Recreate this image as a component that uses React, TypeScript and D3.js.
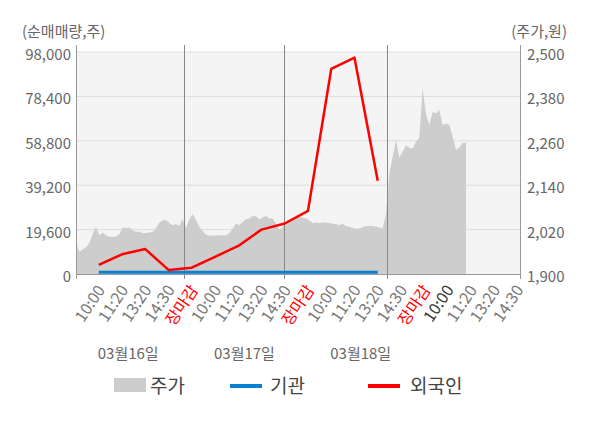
import React from "react";
import * as d3 from "d3";

// ---- data ----
const xLabels = [
  "10:00", "11:20", "13:20", "14:30", "장마감",
  "10:00", "11:20", "13:20", "14:30", "장마감",
  "10:00", "11:20", "13:20", "14:30", "장마감",
  "10:00", "11:20", "13:20", "14:30",
];
const dateLabels = ["03월16일", "03월17일", "03월18일"];
const dateSlots = [0, 5, 10];
const leftTicks = [0, 19600, 39200, 58800, 78400, 98000];
const rightTicks = [1900, 2020, 2140, 2260, 2380, 2500];

// 외국인 net volume per slot
const foreign = [4000, 8700, 11000, 1800, 2800, 7600, 12400, 19600, 22300, 27900, 90500, 95500, 41200];
// 기관 net volume per slot
const institution = [800, 800, 800, 800, 800, 800, 800, 800, 800, 800, 800, 800, 800];

// 주가 (minute samples)
const price = [
  1984, 1960, 1966, 1972, 1984, 2008, 2028, 2005, 2012, 2004,
  2001, 2001, 2001, 2008, 2026, 2024, 2026, 2018, 2014, 2014,
  2011, 2011, 2012, 2014, 2024, 2039, 2045, 2046, 2038, 2032,
  2035, 2030, 2049, 2024, 2047, 2062, 2046, 2027, 2016, 2006,
  2004, 2004, 2004, 2005, 2005, 2005, 2011, 2022, 2036, 2032,
  2041, 2048, 2050, 2057, 2056, 2047, 2053, 2057, 2051, 2050,
  2036, 2019, 2028, 2041, 2047, 2050, 2054, 2054, 2053, 2050,
  2045, 2038, 2039, 2038, 2039, 2039, 2038, 2036, 2035, 2032,
  2036, 2030, 2028, 2024, 2022, 2023, 2027, 2029, 2030, 2030,
  2028, 2026, 2023, 2062, 2172, 2217, 2262, 2214, 2231, 2247,
  2241, 2239, 2258, 2269, 2402, 2332, 2303, 2338, 2334, 2343,
  2303, 2307, 2303, 2271, 2235, 2241, 2255, 2255,
];
const sessionBreaks = [32.4, 62.4, 93.3];

const W = 600;
const H = 428;
const L = 76, R = 520, T = 52, B = 274;
const FONT = "'Noto Sans CJK KR', 'Noto Sans', sans-serif";

export default function App() {
  const yLeft = d3.scaleLinear().domain([0, 98000]).range([B, T]);
  const yRight = d3.scaleLinear().domain([1900, 2500]).range([B, T]);
  const xPrice = d3.scaleLinear().domain([0, 133.2]).range([L, R]);
  const xSlot = d3.scaleLinear().domain([-0.98, 18.12]).range([L, R]);

  const area = d3
    .area<number>()
    .x((_, i) => xPrice(i))
    .y0(B)
    .y1((d) => yRight(d));
  const line = d3
    .line<number>()
    .x((_, i) => xSlot(i))
    .y((d) => yLeft(d));

  const fmt = d3.format(",");

  return (
    <svg width={W} height={H} style={{ position: "absolute", left: 0, top: 0, fontFamily: FONT }}>
      <rect x={0} y={0} width={W} height={H} fill="#fff" />
      <rect x={L} y={T} width={R - L} height={B - T} fill="#f4f4f4" />
      {leftTicks.slice(1).map((t) => (
        <line key={t} x1={L} x2={R} y1={yLeft(t)} y2={yLeft(t)} stroke="#dcdcdc" strokeWidth={1} />
      ))}
      <path d={area(price) || ""} fill="#cdcdcd" />
      {/* axes */}
      <line x1={L} x2={R} y1={B + 0.5} y2={B + 0.5} stroke="#999" />
      {[L, R].map((x, i) => (
        <line key={i} x1={x + 0.5} x2={x + 0.5} y1={45} y2={279} stroke="#999" />
      ))}
      {sessionBreaks.map((b) => (
        <line key={b} x1={Math.round(xPrice(b)) + 0.5} x2={Math.round(xPrice(b)) + 0.5} y1={45} y2={279} stroke="#888" />
      ))}
      {/* series */}
      <path d={line(institution) || ""} fill="none" stroke="#0a7fcf" strokeWidth={3} />
      <path d={line(foreign) || ""} fill="none" stroke="#ff0000" strokeWidth={2.5} strokeLinejoin="round" />
      {/* left ticks */}
      {leftTicks.map((t) => (
        <text key={t} x={71} y={yLeft(t) + 8} textAnchor="end" fontSize={15} fill="#666">
          {fmt(t)}
        </text>
      ))}
      {rightTicks.map((t) => (
        <text key={t} x={527} y={yRight(t) + 8} textAnchor="start" fontSize={15} fill="#666">
          {fmt(t)}
        </text>
      ))}
      <text x={22} y={37} fontSize={15} fill="#666">(순매매량,주)</text>
      <text x={567} y={37} fontSize={15} fill="#666" textAnchor="end">(주가,원)</text>
      {/* x labels */}
      {xLabels.map((s, i) => {
        const x = xSlot(i) + 7;
        const y = 290;
        const color = s === "장마감" ? "#ff0000" : i === 15 ? "#333" : "#777";
        return (
          <text key={i} x={x} y={y} transform={`rotate(-56 ${x} ${y})`} textAnchor="end" fontSize={16} fill={color}>
            {s}
          </text>
        );
      })}
      {dateLabels.map((s, i) => (
        <text key={s} x={xSlot(dateSlots[i]) - 1} y={359} fontSize={15} fill="#666">
          {s}
        </text>
      ))}
      {/* legend */}
      <rect x={114} y={378} width={32} height={14} fill="#cdcdcd" />
      <text x={150} y={393} fontSize={19} fill="#444">주가</text>
      <line x1={230} x2={262} y1={386} y2={386} stroke="#0a7fcf" strokeWidth={4} />
      <text x={270} y={393} fontSize={19} fill="#444">기관</text>
      <line x1={368} x2={400} y1={386} y2={386} stroke="#ff0000" strokeWidth={4} />
      <text x={410} y={393} fontSize={19} fill="#444">외국인</text>
    </svg>
  );
}
